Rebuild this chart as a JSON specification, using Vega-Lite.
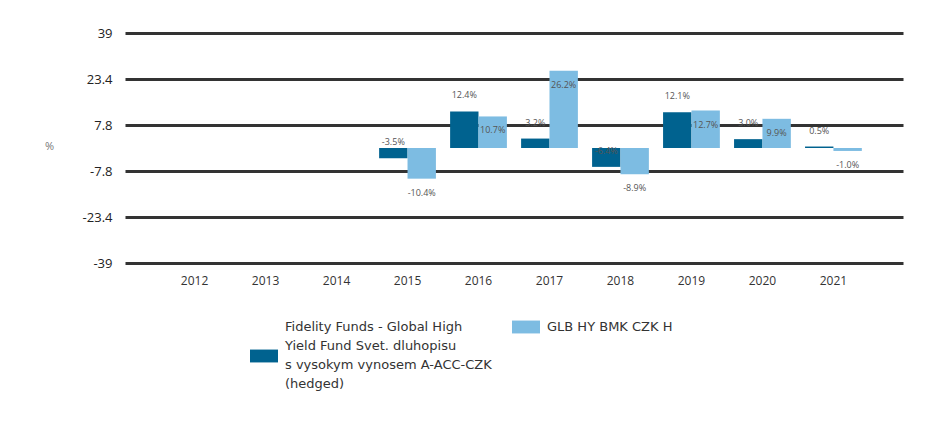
{
  "$schema": "https://vega.github.io/schema/vega-lite/v6.json",
  "autosize": "none",
  "width": 778,
  "height": 230,
  "padding": {"left": 125, "top": 33, "right": 25, "bottom": 158},
  "background": "white",
  "config": {
    "view": {"stroke": null},
    "font": "Open Sans"
  },
  "data": {
    "values": [
      {"year": "2015", "series": "Fidelity Funds - Global High Yield Fund Svet. dluhopisu s vysokym vynosem A-ACC-CZK (hedged)", "value": -3.5},
      {"year": "2016", "series": "Fidelity Funds - Global High Yield Fund Svet. dluhopisu s vysokym vynosem A-ACC-CZK (hedged)", "value": 12.4},
      {"year": "2017", "series": "Fidelity Funds - Global High Yield Fund Svet. dluhopisu s vysokym vynosem A-ACC-CZK (hedged)", "value": 3.2},
      {"year": "2018", "series": "Fidelity Funds - Global High Yield Fund Svet. dluhopisu s vysokym vynosem A-ACC-CZK (hedged)", "value": -6.4},
      {"year": "2019", "series": "Fidelity Funds - Global High Yield Fund Svet. dluhopisu s vysokym vynosem A-ACC-CZK (hedged)", "value": 12.1},
      {"year": "2020", "series": "Fidelity Funds - Global High Yield Fund Svet. dluhopisu s vysokym vynosem A-ACC-CZK (hedged)", "value": 3.0},
      {"year": "2021", "series": "Fidelity Funds - Global High Yield Fund Svet. dluhopisu s vysokym vynosem A-ACC-CZK (hedged)", "value": 0.5},
      {"year": "2015", "series": "GLB HY BMK CZK H", "value": -10.4},
      {"year": "2016", "series": "GLB HY BMK CZK H", "value": 10.7},
      {"year": "2017", "series": "GLB HY BMK CZK H", "value": 26.2},
      {"year": "2018", "series": "GLB HY BMK CZK H", "value": -8.9},
      {"year": "2019", "series": "GLB HY BMK CZK H", "value": 12.7},
      {"year": "2020", "series": "GLB HY BMK CZK H", "value": 9.9},
      {"year": "2021", "series": "GLB HY BMK CZK H", "value": -1.0}
    ]
  },
  "transform": [
    {"calculate": "replace(format(datum.value, '.1f'), '\u2212', '-') + '%'", "as": "label"}
  ],
  "encoding": {
    "x": {
      "field": "year",
      "type": "nominal",
      "scale": {
        "domain": ["2012", "2013", "2014", "2015", "2016", "2017", "2018", "2019", "2020", "2021"],
        "paddingInner": 0.2,
        "paddingOuter": 0.58
      },
      "axis": {
        "title": null,
        "labelAngle": 0,
        "domain": false,
        "ticks": false,
        "labelPadding": 12,
        "labelFontSize": 12,
        "labelColor": "#333333",
        "labelFont": "Open Sans"
      }
    },
    "xOffset": {
      "field": "series",
      "type": "nominal",
      "sort": ["Fidelity Funds - Global High Yield Fund Svet. dluhopisu s vysokym vynosem A-ACC-CZK (hedged)", "GLB HY BMK CZK H"]
    },
    "y": {
      "field": "value",
      "type": "quantitative",
      "scale": {"domain": [-39, 39], "nice": false, "zero": false},
      "axis": {
        "title": "%",
        "titleAngle": 0,
        "titleX": -76,
        "titleY": 113,
        "titleAlign": "center",
        "titleBaseline": "middle",
        "titleFontSize": 11,
        "titleFontWeight": "normal",
        "titleColor": "#777777",
        "values": [-39, -23.4, -7.8, 7.8, 23.4, 39],
        "labelExpr": "datum.value",
        "domain": false,
        "ticks": false,
        "labelPadding": 13,
        "labelFontSize": 13,
        "labelColor": "#222222",
        "grid": true,
        "gridColor": "#333333",
        "gridWidth": 3
      }
    }
  },
  "layer": [
    {
      "mark": {"type": "bar"},
      "encoding": {
        "color": {
          "field": "series",
          "type": "nominal",
          "sort": ["Fidelity Funds - Global High Yield Fund Svet. dluhopisu s vysokym vynosem A-ACC-CZK (hedged)", "GLB HY BMK CZK H"],
          "scale": {"range": ["#00628f", "#7dbce2"]},
          "legend": {
            "title": null,
            "orient": "none",
            "legendX": 125,
            "legendY": 280,
            "direction": "horizontal",
            "symbolType": "M-1,-0.46H1V0.46H-1Z",
            "symbolSize": 784,
            "symbolStrokeWidth": 0,
            "labelFontSize": 13,
            "labelColor": "#333333",
            "labelFont": "DejaVu Sans",
            "labelOffset": 7,
            "columnPadding": 20,
            "labelLimit": 400,
            "labelExpr": "datum.label == 'GLB HY BMK CZK H' ? ['GLB HY BMK CZK H', ' ', ' ', ' '] : ['Fidelity Funds - Global High', 'Yield Fund Svet. dluhopisu', 's vysokym vynosem A-ACC-CZK', '(hedged)']",
            "encoding": {
              "labels": {"lineHeight": {"value": 19}},
              "symbols": {"y": {"value": {"expr": "datum.index == 0 ? 43 : 14"}}}
            }
          }
        }
      }
    },
    {
      "transform": [{"filter": "datum.series != 'GLB HY BMK CZK H'"}],
      "mark": {"type": "text", "dy": -16, "baseline": "middle", "fontSize": 9, "color": "#555555"},
      "encoding": {"text": {"field": "label"}}
    },
    {
      "transform": [{"filter": "datum.series == 'GLB HY BMK CZK H'"}],
      "mark": {"type": "text", "dy": 14, "baseline": "middle", "fontSize": 9, "color": "#555555"},
      "encoding": {"text": {"field": "label"}}
    }
  ]
}
